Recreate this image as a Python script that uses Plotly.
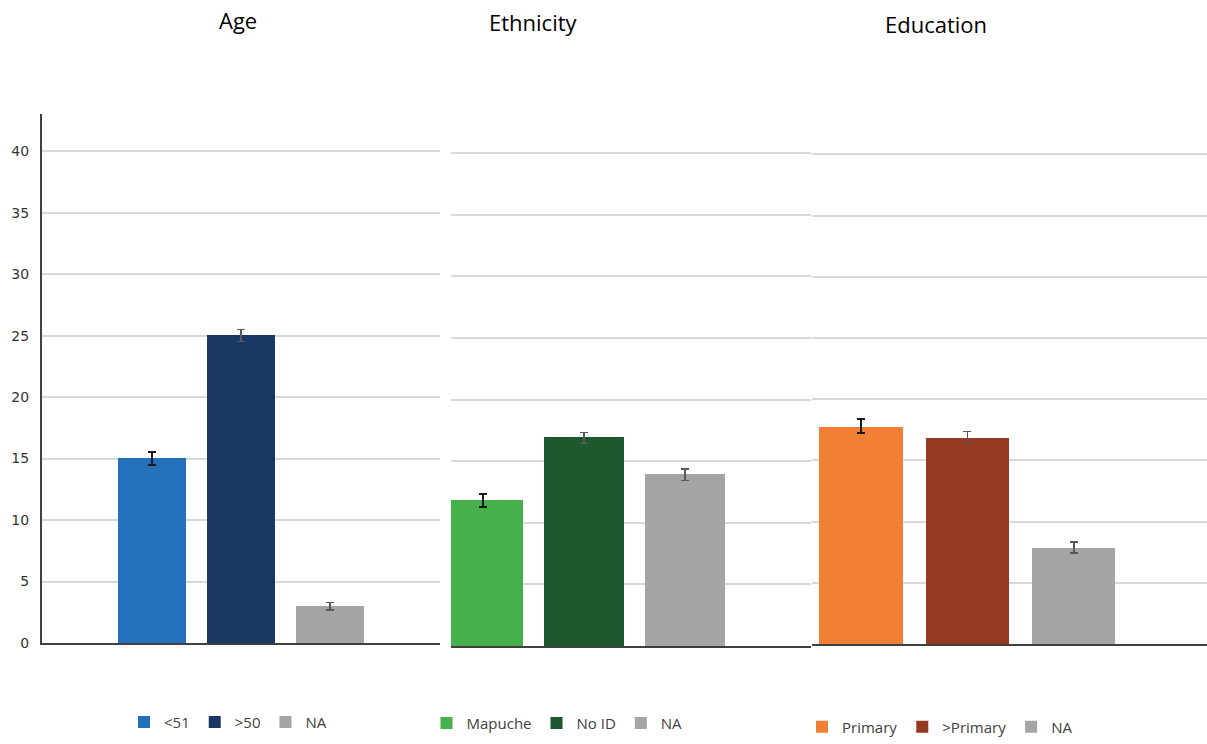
import plotly.graph_objects as go

W, H = 1207, 744

# ---- data ----
age_labels = ["<51", ">50", "NA"]
age_values = [15.0, 25.0, 3.0]
age_err = [0.5, 0.5, 0.3]

eth_labels = ["Mapuche", "No ID", "NA"]
eth_values = [11.8, 16.9, 13.9]
eth_err = [0.5, 0.45, 0.45]

edu_labels = ["Primary", ">Primary", "NA"]
edu_values = [17.8, 16.9, 7.9]
edu_err = [0.55, 0.45, 0.45]

titles = ["Age", "Ethnicity", "Education"]
y_ticks = [0, 5, 10, 15, 20, 25, 30, 35, 40]

age_colors = ["#2470BA", "#1A3764", "#A5A5A5"]
eth_colors = ["#46B04A", "#1E582E", "#A5A5A5"]
edu_colors = ["#F28034", "#943A20", "#A5A5A5"]
err_colors = ["#1a1a1a", "#595959", "#595959"]

FONT = "Open Sans"
TXT = "#404040"


def px_x(p):
    return p / W


def px_y(p):
    return 1 - p / H


panels = [
    (age_labels, age_values, age_err, age_colors, (42, 440), 650, 12.43, [-1.236, 3.236], 0.775),
    (eth_labels, eth_values, eth_err, eth_colors, (451, 811), 653, 12.45, [-0.317, 3.25], 0.79),
    (edu_labels, edu_values, edu_err, edu_colors, (812, 1207), 651, 12.375, [-0.46, 3.25], 0.78),
]

fig = go.Figure()
layout = {}
legend_pos = [(228, 730), (557, 731), (940, 735)]

for k, (labels, vals, errs, cols, (xl, xr), y0, ppu, xrange, bw) in enumerate(panels):
    sfx = "" if k == 0 else str(k + 1)
    leg = "legend" if k == 0 else f"legend{k + 1}"
    for i, (lab, v, e, c) in enumerate(zip(labels, vals, errs, cols)):
        fig.add_trace(go.Bar(
            x=[i], y=[v], width=[bw], name=lab,
            marker=dict(color=c, line=dict(width=0)),
            error_y=dict(type="data", array=[e], visible=True,
                         color=err_colors[i], thickness=2 if i == 0 else 1.5, width=4),
            xaxis="x" + sfx, yaxis="y" + sfx, legend=leg,
            showlegend=True,
        ))
    ytop = 43
    layout["xaxis" + sfx] = dict(
        domain=[px_x(xl), px_x(xr)], range=xrange, anchor="y" + sfx,
        showgrid=False, zeroline=False, showticklabels=False, ticks="",
        showline=True, linecolor="#404040", linewidth=2, fixedrange=True,
    )
    layout["yaxis" + sfx] = dict(
        domain=[px_y(y0), px_y(y0 - ytop * ppu)], range=[0, ytop], anchor="x" + sfx,
        tickvals=y_ticks, showticklabels=(k == 0), ticks="",
        tickfont=dict(family="DejaVu Sans", size=14, color="#333333"),
        showgrid=True, gridcolor="#D9D9D9", gridwidth=1.5,
        zeroline=False, showline=(k == 0), linecolor="#404040", linewidth=2,
        ticklabelstandoff=8,
    )
    lx, ly = legend_pos[k]
    layout[leg] = dict(
        x=px_x(lx), y=px_y(ly), xanchor="center", yanchor="middle",
        orientation="h", font=dict(family=FONT, size=15, color=TXT),
        itemwidth=30, bgcolor="rgba(0,0,0,0)", tracegroupgap=0,
    )

title_pos = [(238, 20), (533, 22), (936, 24)]
annotations = []
for t, (tx, ty) in zip(titles, title_pos):
    annotations.append(dict(
        text=t, x=px_x(tx), y=px_y(ty), xref="paper", yref="paper",
        xanchor="center", yanchor="middle", showarrow=False,
        font=dict(family=FONT, size=22, color="#000000"),
    ))

fig.update_layout(
    width=W, height=H, margin=dict(l=0, r=0, t=0, b=0),
    paper_bgcolor="white", plot_bgcolor="white",
    barmode="overlay", bargap=0,
    annotations=annotations,
    **layout,
)

fig.write_html("out.html")
